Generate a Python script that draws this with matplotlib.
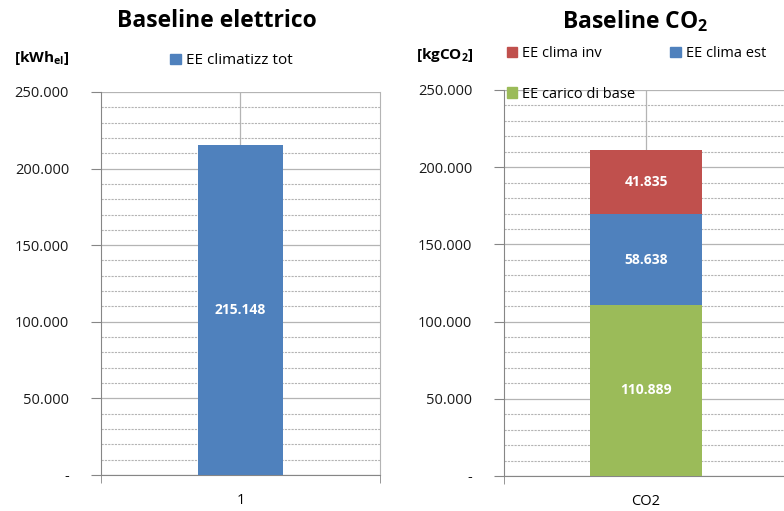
import matplotlib
matplotlib.use("Agg")
import matplotlib.pyplot as plt
from matplotlib.ticker import MultipleLocator, FuncFormatter
from matplotlib.patches import Patch

plt.rcParams['font.family'] = ['Open Sans', 'DejaVu Sans']
plt.rcParams['mathtext.fontset'] = 'custom'
plt.rcParams['mathtext.rm'] = 'Open Sans'
plt.rcParams['mathtext.bf'] = 'Open Sans:bold'

# Electric baseline
elec_categories = ["1"]
elec_label = "EE climatizz tot"
elec_values = [215148]

# CO2 baseline (stacked, bottom to top)
co2_categories = ["CO2"]
co2_series = ["EE carico di base", "EE clima est", "EE clima inv"]
co2_base = [110889]
co2_est = [58638]
co2_inv = [41835]

BLUE = "#4F81BD"
RED = "#C0504D"
GREEN = "#9BBB59"
GRID = "#b4b4b4"
AXIS = "#868686"


def it_fmt(v, pos=None):
    if abs(v) < 1e-9:
        return "-"
    return f"{v:,.0f}".replace(",", ".")


def style_axes(ax, labels):
    ax.set_ylim(0, 250000)
    ax.set_xlim(-0.5, 0.5)
    ax.yaxis.set_major_locator(MultipleLocator(50000))
    ax.yaxis.set_minor_locator(MultipleLocator(10000))
    ax.yaxis.set_major_formatter(FuncFormatter(it_fmt))
    ax.grid(axis="y", which="major", color=GRID, lw=0.9, zorder=0)
    ax.grid(axis="y", which="minor", color=GRID, lw=0.8, ls=(0, (2, 1)), zorder=0)
    ax.set_xticks([0])
    ax.set_xticklabels(labels)
    ax.set_xticks([-0.5, 0.5], minor=True)
    ax.grid(axis="x", which="major", color=GRID, lw=0.9, zorder=0)
    ax.tick_params(axis="x", which="major", length=0, pad=13, labelsize=10.5)
    ax.tick_params(axis="x", which="minor", length=6, color=AXIS, direction="out")
    ax.tick_params(axis="y", which="major", length=7, color=AXIS, pad=16, labelsize=10.5)
    ax.tick_params(axis="y", which="minor", length=0)
    for lab in ax.get_yticklabels():
        lab.set_color("#1a1a1a")
    ax.spines["top"].set_visible(False)
    ax.spines["left"].set_color(AXIS)
    ax.spines["bottom"].set_color(AXIS)
    ax.spines["right"].set_color(GRID)
    ax.set_axisbelow(True)


fig = plt.figure(figsize=(7.84, 5.11), dpi=100)

# Left chart: electric energy
ax1 = fig.add_axes([0.1288, 0.0705, 0.3559, 0.7495])
style_axes(ax1, elec_categories)
b1 = ax1.bar(range(len(elec_values)), elec_values, width=0.308, color=BLUE, zorder=3)
for rect, v in zip(b1, elec_values):
    ax1.text(rect.get_x() + rect.get_width() / 2, v / 2, it_fmt(v),
             ha="center", va="center", color="white", fontsize=10, fontweight="bold", zorder=4)

fig.text(217 / 784, 1 - 21 / 511, "Baseline elettrico", ha="center", va="center",
         fontsize=16.5, fontweight="bold")
fig.text(14 / 784, 1 - 58 / 511, r"[kWh$_{\mathbf{el}}$]", ha="left", va="center",
         fontsize=11, fontweight="bold")
fig.legend(handles=[Patch(color=BLUE, label=elec_label)], loc="center left",
           bbox_to_anchor=(170 / 784, 1 - 61 / 511), frameon=False, fontsize=11,
           handlelength=0.7, handleheight=0.7, handletextpad=0.35, borderaxespad=0,
           borderpad=0)

# Right chart: CO2 emissions, stacked
ax2 = fig.add_axes([0.643, 0.0685, 0.362, 0.7554])
style_axes(ax2, co2_categories)
x = range(len(co2_categories))
w = 0.394
bb = ax2.bar(x, co2_base, width=w, color=GREEN, zorder=3)
be = ax2.bar(x, co2_est, width=w, bottom=co2_base, color=BLUE, zorder=3)
bottom_inv = [a + b for a, b in zip(co2_base, co2_est)]
bi = ax2.bar(x, co2_inv, width=w, bottom=bottom_inv, color=RED, zorder=3)
for bars, vals, bots in ((bb, co2_base, [0] * len(co2_base)),
                         (be, co2_est, co2_base),
                         (bi, co2_inv, bottom_inv)):
    for rect, v, b in zip(bars, vals, bots):
        ax2.text(rect.get_x() + rect.get_width() / 2, b + v / 2, it_fmt(v),
                 ha="center", va="center", color="white", fontsize=10,
                 fontweight="bold", zorder=4)

fig.text(635 / 784, 1 - 21 / 511, r"Baseline CO$_\mathbf{2}$", ha="center", va="center",
         fontsize=16.5, fontweight="bold")
fig.text(416 / 784, 1 - 55 / 511, r"[kgCO$_\mathbf{2}$]", ha="left", va="center",
         fontsize=11, fontweight="bold")
handles = [Patch(color=RED, label=co2_series[2]),
           Patch(color=GREEN, label=co2_series[0]),
           Patch(color=BLUE, label=co2_series[1])]
fig.legend(handles=handles, loc="upper left", ncol=2,
           bbox_to_anchor=(507 / 784, 1 - 46 / 511), frameon=False, fontsize=10.5,
           handlelength=0.7, handleheight=0.7, handletextpad=0.35, borderaxespad=0,
           borderpad=0, columnspacing=2.4, labelspacing=1.75)

fig.savefig("out.png", dpi=100)
